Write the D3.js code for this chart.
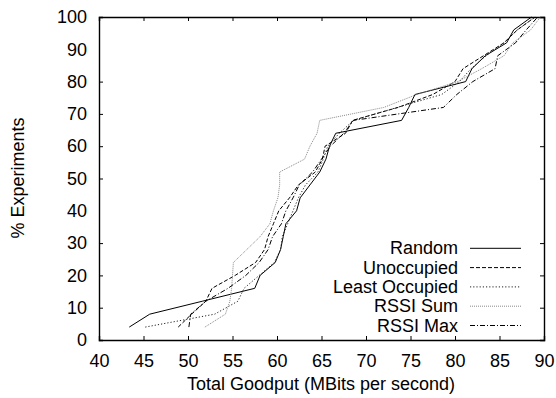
<!DOCTYPE html>
<html>
<head>
<meta charset="utf-8">
<script src="https://cdn.jsdelivr.net/npm/d3@7"></script>
<style>
  body { margin: 0; background: #fff; }
  text { font-family: "Liberation Sans", Arial, sans-serif; }
</style>
</head>
<body>
<script>
// percent of experiments (CDF steps)
var pct = [4,8,12,16,20,24,28,32,36,40,44,48,52,56,60,64,68,72,76,80,84,88,92,96,100];
var random     = [43.4,45.7,51.6,57.5,58.1,59.8,60.4,60.7,61.0,62.2,62.6,63.7,64.8,65.5,65.9,66.6,74.0,74.8,75.5,81.2,81.9,83.4,85.8,86.6,88.6];
var unoccupied = [48.9,50.4,52.0,52.7,55.3,57.6,58.6,59.0,59.6,60.2,61.4,62.4,64.3,65.1,65.4,67.7,68.5,73.6,77.5,80.0,80.9,83.2,85.5,87.0,89.0];
var leastOcc   = [45.2,53.0,55.6,56.3,58.0,59.7,60.4,60.6,61.2,61.8,62.4,63.2,64.6,65.2,65.7,67.0,68.6,73.5,78.5,80.5,81.8,83.5,85.5,87.0,89.0];
var rssiSum    = [51.9,54.2,54.7,54.9,55.0,55.1,56.6,58.1,59.2,59.6,60.1,60.3,60.3,63.1,63.7,64.5,64.8,72.0,75.7,80.3,83.0,85.5,86.5,88.5,89.6];
var rssiMax    = [50.1,50.3,52.0,54.5,56.5,58.0,59.0,59.5,60.5,61.0,61.8,62.5,64.0,65.0,66.0,67.5,68.6,78.7,80.2,82.0,84.5,84.8,86.8,88.0,89.3];
var seriesNames = ['Random','Unoccupied','Least Occupied','RSSI Sum','RSSI Max'];
var xTicks = [40,45,50,55,60,65,70,75,80,85,90];
var yTicks = [0,10,20,30,40,50,60,70,80,90,100];

var styles = [
  {color:'#000', dash:null, w:1},
  {color:'#000', dash:'4,2', w:1},
  {color:'#222', dash:'1.2,2', w:1},
  {color:'#888', dash:'1,1', w:1},
  {color:'#000', dash:'5,2,1,2', w:1}
];
var allSeries = [random, unoccupied, leastOcc, rssiSum, rssiMax];

var margin = {top: 17, right: 12, bottom: 58, left: 99},
    width = 556 - margin.left - margin.right,
    height = 398 - margin.top - margin.bottom;

var svg = d3.select('body').append('svg')
  .attr('width', 556)
  .attr('height', 398);

var chart = svg.append('g')
  .attr('transform', `translate(${margin.left},${margin.top})`);

var x = d3.scaleLinear().domain([40,90]).range([0,width]);
var y = d3.scaleLinear().domain([0,100]).range([height,0]);

// axes, ticks pointing inward
chart.append('g')
  .attr('transform', `translate(0,${height})`)
  .call(d3.axisBottom(x).tickValues(xTicks).tickSize(-4).tickPadding(14))
  .call(g => g.selectAll('text').attr('font-size','18px').attr('fill','#000'));
chart.append('g')
  .call(d3.axisTop(x).tickValues(xTicks).tickSize(-4).tickFormat(''));
chart.append('g')
  .call(d3.axisLeft(y).tickValues(yTicks).tickSize(-4).tickPadding(12))
  .call(g => g.selectAll('text').attr('font-size','18px').attr('fill','#000'));
chart.append('g')
  .attr('transform', `translate(${width},0)`)
  .call(d3.axisRight(y).tickValues(yTicks).tickSize(-4).tickFormat(''));
chart.selectAll('.domain').attr('stroke','#000').attr('stroke-width',1.4);
chart.selectAll('.tick line').attr('stroke','#000');
chart.selectAll('.tick').filter(d => d === 40 || d === 90 || d === 0 || d === 100)
  .select('line').remove();

var line = d3.line()
  .x(d => x(d[0]))
  .y(d => y(d[1]));

allSeries.forEach(function(vals, i) {
  chart.append('path')
    .datum(vals.map((v, j) => [v, pct[j]]))
    .attr('d', line)
    .attr('fill','none')
    .attr('stroke', styles[i].color)
    .attr('stroke-width', styles[i].w)
    .attr('stroke-dasharray', styles[i].dash);
});

// legend
var legend = chart.append('g');
seriesNames.forEach(function(name, i) {
  var ly = 248.3 - margin.top + i * 19.3;
  legend.append('text')
    .attr('x', 458 - margin.left)
    .attr('y', ly + 6)
    .attr('text-anchor','end')
    .attr('font-size','18px')
    .text(name);
  legend.append('line')
    .attr('x1', 470 - margin.left).attr('x2', 521 - margin.left)
    .attr('y1', ly).attr('y2', ly)
    .attr('stroke', styles[i].color)
    .attr('stroke-dasharray', styles[i].dash);
});

svg.append('text')
  .attr('transform','translate(24,178) rotate(-90)')
  .attr('text-anchor','middle')
  .attr('font-size','18px')
  .text('% Experiments');
svg.append('text')
  .attr('x', 321).attr('y', 390)
  .attr('text-anchor','middle')
  .attr('font-size','18px')
  .text('Total Goodput (MBits per second)');
</script>
</body>
</html>
